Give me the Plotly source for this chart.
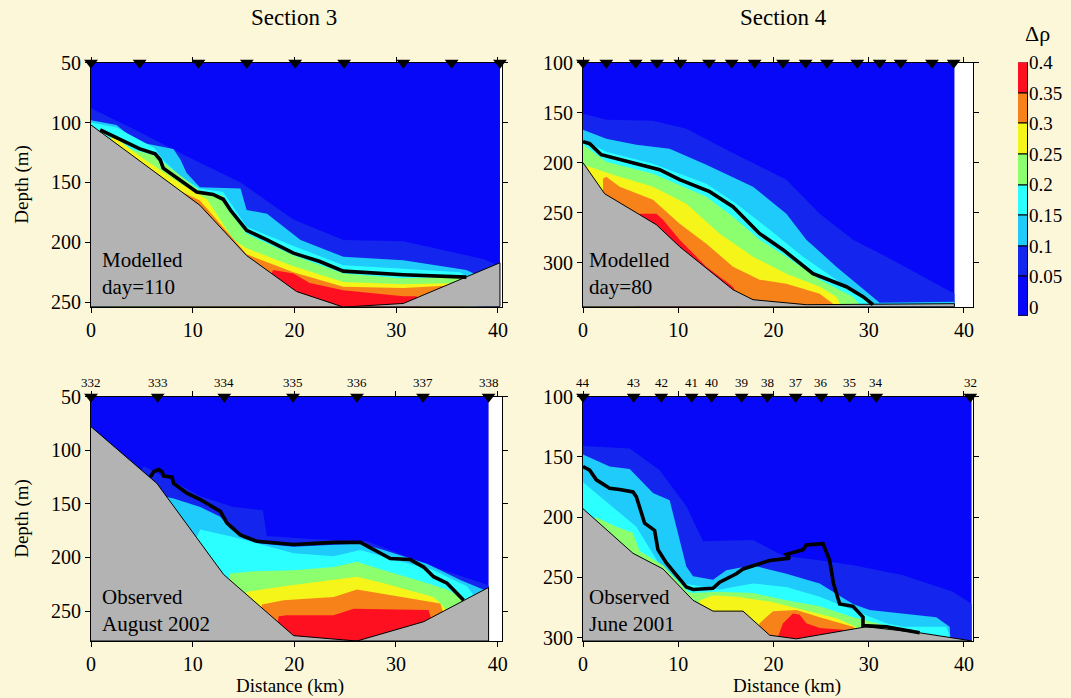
import plotly.graph_objects as go

W, H = 1071, 698
FONT = "Liberation Serif, Times New Roman, serif"
BG = "#FDF7DA"

# density-anomaly contour levels and their fill colours
LEVELS = [0.0, 0.05, 0.1, 0.15, 0.2, 0.25, 0.3, 0.35, 0.4]
LEVEL_LABELS = ["0", "0.05", "0.1", "0.15", "0.2", "0.25", "0.3", "0.35", "0.4"]
BAND_COLORS = ["#0808F8", "#1426EE", "#1ECBFA", "#2CFFFF", "#8CFF6E",
               "#F5F51A", "#F8821A", "#FF1020"]
BED_COLOR = "#B3B3B3"

# ---------------- Section 3, modelled (day 110) ----------------
P1_BED_X = [0, 10.7, 15.3, 20.2, 24.8, 30.7, 40.2]
P1_BED_D = [102, 169, 211, 241, 254, 251, 217]
P1_ISO_X = [
    [0, 4.8, 9.4, 14.7, 19.9, 24.8, 30.7, 38.6, 40.2],                       # 0.05
    [0, 2.5, 4.5, 8.1, 8.8, 9.4, 10.7, 14.7, 15.3, 17.3, 20.6, 24.8, 30.7, 36.9, 38.6],  # 0.10
    [0, 2.5, 6.2, 7.1, 8.8, 10.7, 13.0, 13.7, 15.3, 19.9, 24.8, 30.7, 36.3, 38.0],      # 0.15
    [0, 4.2, 6.2, 10.7, 13.0, 13.7, 15.3, 19.9, 24.8, 30.4, 36.9, 38.0],     # 0.20
    [2.0, 4.8, 8.8, 11.4, 14.0, 15.3, 19.9, 24.8, 30.7, 36.3, 37.5],         # 0.25
    [7.0, 9.4, 10.7, 15.3, 19.9, 24.8, 30.7, 35.3, 36.5],                    # 0.30
    [17.3, 17.9, 19.9, 21.5, 24.8, 30.7, 32.0, 32.5],                        # 0.35
]
P1_ISO_D = [
    [88, 108, 128, 150, 181, 198, 199, 214, 220],
    [98, 102, 116, 122, 131, 142, 154, 155, 173, 176, 198, 212, 215, 223, 230],
    [100, 104, 121, 131, 145, 155, 158, 167, 187, 203, 219, 222, 225, 235],
    [104, 123, 127, 157, 161, 175, 193, 211, 226, 230, 229, 236],
    [110, 128, 151, 164, 198, 205, 220, 233, 235, 234, 240],
    [150, 160, 165, 210, 225, 237, 238, 236, 245],
    [235, 223, 226, 234, 240, 245, 245, 255],
]
P1_LINE_X = [0.9, 1.9, 4.8, 6.3, 6.8, 7.1, 8.8, 10.4, 12.0, 13.0, 13.7, 15.3,
             17.3, 19.9, 22.5, 24.8, 30.7, 36.9]
P1_LINE_D = [106, 110, 122, 126, 131, 138, 148, 158, 160, 164, 173, 190,
             198, 209, 216, 224, 227, 229]
P1_STATIONS = [0, 4.78, 10.57, 15.32, 20.07, 24.88, 30.70, 35.45, 40.2]

# ---------------- Section 4, modelled (day 80) ----------------
P2_BED_X = [0, 2.27, 7.7, 10.15, 15.75, 17.85, 23.45, 39.0]
P2_BED_D = [200, 231, 262, 284, 327, 337, 342, 341]
P2_ISO_X = [
    [0, 2.45, 7.35, 10.85, 15.05, 21.35, 24.85, 28.35, 31.85, 39.0],
    [0, 2.45, 5.6, 9.1, 12.95, 17.85, 21.35, 23.45, 26.6, 30.1, 31.15, 39.0],
    [0, 2.45, 7.35, 12.95, 16.1, 19.6, 23.1, 26.6, 30.1, 30.8],
    [0, 2.45, 7.35, 12.95, 15.75, 18.55, 21.35, 24.85, 28.35, 29.4],
    [0.35, 3.15, 7.35, 10.85, 14.35, 17.85, 21.35, 24.85, 26.6, 27.3],
    [2.1, 2.45, 3.85, 7.35, 10.15, 12.95, 15.75, 18.55, 21.35, 24.85, 26.25, 26.6],
    [5.5, 5.95, 7.7, 8.4, 10.15, 12.95, 15.75, 16.6],
]
P2_ISO_D = [
    [151, 157, 158, 166, 187, 217, 251, 277, 294, 331],
    [167, 176, 182, 186, 202, 224, 251, 277, 304, 331, 340, 339],
    [177, 189, 201, 221, 241, 267, 294, 317, 339, 346],
    [182, 199, 211, 234, 254, 277, 294, 317, 334, 346],
    [203, 212, 224, 241, 271, 294, 311, 324, 334, 346],
    [216, 214, 224, 237, 261, 281, 304, 317, 321, 331, 341, 346],
    [260, 251, 251, 257, 277, 304, 324, 340],
]
P2_LINE_X = [0, 0.7, 1.92, 3.85, 8.05, 10.15, 13.3, 15.75, 18.55, 21.0,
             24.15, 27.65, 29.4, 30.45]
P2_LINE_D = [179, 181, 192, 197, 207, 217, 229, 244, 271, 287,
             311, 324, 334, 342]
P2_STATIONS = [0, 2.45, 5.53, 7.77, 10.22, 13.23, 15.61, 18.02, 21.0, 23.38,
               25.62, 28.8, 31.15, 33.35, 36.64, 38.92]

# ---------------- Section 3, observed (August 2002) ----------------
P3_BED_X = [0, 6.49, 13.05, 19.93, 26.16, 32.72, 39.11]
P3_BED_D = [78, 131, 216, 273, 278, 260, 228]
P3_ISO_X = [
    [4.5, 5.2, 7.9, 10.75, 14.0, 16.9, 17.3, 22.0, 27.15, 33.7, 39.11],
    [6.8, 7.15, 8.13, 10.75, 12.72, 13.7, 15.02, 16.66, 19.93, 26.5, 28.79, 33.05, 36.33, 39.11],
    [10.2, 10.75, 14.03, 19.93, 23.87, 26.5, 29.77, 33.7, 36.98, 38.0],
    [13.4, 13.7, 16.0, 19.93, 23.87, 26.16, 28.79, 32.07, 35.02, 36.33, 36.8],
    [15.0, 15.34, 18.95, 23.87, 26.16, 28.79, 33.7, 34.7, 35.2],
    [16.6, 16.82, 18.95, 23.87, 26.16, 30.43, 34.36, 34.8],
    [18.3, 18.46, 19.28, 23.87, 25.84, 30.43, 33.21, 33.6],
]
P3_ISO_D = [
    [125, 115, 128, 143, 153, 156, 180, 183, 185, 209, 226],
    [150, 143, 145, 153, 162, 173, 182, 187, 190, 187, 193, 206, 221, 232],
    [185, 174, 181, 196, 199, 193, 202, 212, 227, 240],
    [225, 215, 213, 212, 209, 204, 212, 221, 230, 237, 250],
    [240, 232, 227, 221, 218, 224, 237, 246, 255],
    [252, 244, 240, 237, 230, 237, 243, 256],
    [266, 255, 254, 254, 248, 249, 249, 262],
]
P3_LINE_X = [5.84, 6.16, 6.66, 6.98, 7.15, 7.97, 8.13, 9.44, 10.75, 12.72,
             13.38, 14.69, 16.33, 19.93, 23.87, 26.5, 29.44, 31.41, 32.72,
             33.7, 35.02, 36.66]
P3_LINE_D = [125, 120, 118, 120, 124, 125, 131, 140, 146, 157,
             168, 179, 185, 188, 186, 186, 201, 202, 209,
             218, 224, 240]
P3_STATIONS = [0, 6.56, 13.11, 19.87, 26.16, 32.66, 39.11]
P3_STATION_IDS = ["332", "333", "334", "335", "336", "337", "338"]

# ---------------- Section 4, observed (June 2001) ----------------
P4_BED_X = [0, 5.25, 8.4, 11.55, 13.65, 16.8, 19.6, 22.4, 29.75, 35.35, 40.25, 40.8]
P4_BED_D = [193, 230, 243, 269, 278, 278, 298, 301, 291, 296, 302, 303]
P4_ISO_X = [
    [0, 4.9, 8.05, 10.85, 12.6, 17.85, 21.0, 25.0, 28.35, 33.5, 38.85, 40.8],
    [0, 2.8, 4.9, 7.35, 9.1, 9.8, 10.85, 11.55, 13.65, 15.05, 17.85, 21.35,
     24.85, 28.35, 30.1, 37.1, 38.5, 38.6],
    [0, 3.85, 5.6, 8.4, 10.5, 14.35, 17.85, 21.35, 24.85, 28.35, 31.85,
     33.6, 38.15, 38.8],
    [0.8, 1.4, 3.5, 5.25, 5.95, 8.4, 11.0, 11.55, 14.35, 17.85, 21.35,
     24.85, 28.35, 31.85, 33.0],
    [12.0, 12.25, 13.65, 16.1, 19.6, 23.1, 26.6, 28.35, 29.5],
    [18.3, 18.55, 19.95, 22.4, 24.85, 28.35, 29.0],
    [20.3, 21.0, 22.05, 22.75, 23.45, 24.85, 28.35, 29.0],
]
P4_ISO_D = [
    [141, 143, 161, 191, 220, 219, 232, 236, 240, 248, 262, 272],
    [148, 158, 160, 180, 186, 208, 241, 249, 252, 244, 240, 247,
     255, 272, 277, 283, 291, 305],
    [171, 197, 208, 244, 255, 260, 255, 258, 266, 277, 288,
     291, 291, 305],
    [205, 200, 208, 213, 228, 240, 262, 263, 262, 263, 269,
     274, 283, 290, 296],
    [275, 269, 265, 266, 270, 277, 284, 290, 296],
    [295, 288, 278, 277, 283, 291, 296],
    [303, 288, 280, 281, 288, 292, 294, 298],
]
P4_LINE_X = [0, 0.7, 1.4, 2.8, 3.85, 5.25, 5.6, 6.47, 7.52, 7.87, 8.75,
             10.85, 11.55, 13.65, 14.35, 16.1, 16.8, 19.6, 21.7, 21.35,
             23.1, 23.45, 25.2, 25.9, 26.3, 26.95, 28.35, 29.4, 29.4,
             31.85, 33.3, 35.35]
P4_LINE_D = [158, 161, 169, 176, 177, 179, 183, 205, 211, 227, 238,
             258, 260, 259, 254, 247, 243, 236, 234, 231,
             227, 223, 222, 236, 255, 272, 274, 283, 290,
             291, 293, 296]
P4_STATIONS = [0, 5.32, 8.22, 11.41, 13.51, 16.66, 19.35, 22.33, 25.02,
               28.0, 30.8, 40.67]
P4_STATION_IDS = ["44", "43", "42", "41", "40", "39", "38", "37", "36",
                  "35", "34", "32"]

# panel frames: x extent, depth range (top, bottom), y ticks
P1_XMAX, P1_DEPTH = 40.4, (50, 253.7)
P2_XMAX, P2_DEPTH = 40.95, (100, 344)
P3_XMAX, P3_DEPTH = 40.43, (50, 278)
P4_XMAX, P4_DEPTH = 40.95, (100, 302.8)
P1_YTICKS = [50, 100, 150, 200, 250]
P2_YTICKS = [100, 150, 200, 250, 300]
P3_YTICKS = [50, 100, 150, 200, 250]
P4_YTICKS = [100, 150, 200, 250, 300]
X_TICKS = [0, 10, 20, 30, 40]


def px_x(px):
    return px / W


def px_y(py):
    return 1 - py / H


fig = go.Figure()


def add_panel(n, bed_x, bed_d, iso_x, iso_d, line_x, line_d, stations, depth):
    xa = "x" if n == 1 else f"x{n}"
    ya = "y" if n == 1 else f"y{n}"
    dtop, dbot = depth
    x0, x1 = bed_x[0], bed_x[-1]
    # background water mass (lowest band)
    fig.add_trace(go.Scatter(
        x=[x0, x1, x1, x0], y=[dtop, dtop, dbot, dbot], fill="toself",
        fillcolor=BAND_COLORS[0], mode="lines", line=dict(width=0),
        xaxis=xa, yaxis=ya, hoverinfo="skip", showlegend=False))
    # each level fills everything beneath its isoline
    for k, (xs, ds) in enumerate(zip(iso_x, iso_d)):
        fig.add_trace(go.Scatter(
            x=list(xs) + [xs[-1], xs[0]], y=list(ds) + [dbot, dbot],
            fill="toself", fillcolor=BAND_COLORS[k + 1], mode="lines",
            line=dict(width=0), xaxis=xa, yaxis=ya, hoverinfo="skip",
            showlegend=False))
    # sea bed
    fig.add_trace(go.Scatter(
        x=list(bed_x) + [x1, x0], y=list(bed_d) + [dbot, dbot],
        fill="toself", fillcolor=BED_COLOR, mode="lines",
        line=dict(color="black", width=1), xaxis=xa, yaxis=ya,
        hoverinfo="skip", showlegend=False))
    # highlighted contour
    fig.add_trace(go.Scatter(
        x=line_x, y=line_d, mode="lines",
        line=dict(color="black", width=3.6), xaxis=xa, yaxis=ya,
        hoverinfo="skip", showlegend=False))
    # station positions
    fig.add_trace(go.Scatter(
        x=stations, y=[dtop] * len(stations), mode="markers",
        marker=dict(symbol="triangle-down", size=12, color="black"),
        cliponaxis=False, xaxis=xa, yaxis=ya, hoverinfo="skip",
        showlegend=False))


add_panel(1, P1_BED_X, P1_BED_D, P1_ISO_X, P1_ISO_D, P1_LINE_X, P1_LINE_D,
          P1_STATIONS, P1_DEPTH)
add_panel(2, P2_BED_X, P2_BED_D, P2_ISO_X, P2_ISO_D, P2_LINE_X, P2_LINE_D,
          P2_STATIONS, P2_DEPTH)
add_panel(3, P3_BED_X, P3_BED_D, P3_ISO_X, P3_ISO_D, P3_LINE_X, P3_LINE_D,
          P3_STATIONS, P3_DEPTH)
add_panel(4, P4_BED_X, P4_BED_D, P4_ISO_X, P4_ISO_D, P4_LINE_X, P4_LINE_D,
          P4_STATIONS, P4_DEPTH)

# colour key drawn as stacked bars on its own axis
CB_MIN = -0.0142
cb_base = [CB_MIN] + LEVELS[1:-1]
cb_height = [top - b for top, b in zip(LEVELS[1:], cb_base)]
fig.add_trace(go.Bar(
    x=[0] * len(cb_height), y=cb_height, base=cb_base, width=1,
    marker=dict(color=BAND_COLORS, line=dict(color="black", width=1)),
    xaxis="x5", yaxis="y5", hoverinfo="skip", showlegend=False))

tickfont = dict(family=FONT, size=20, color="black")
common_x = dict(tickvals=X_TICKS, ticks="outside", ticklen=5, tickcolor="black",
                showline=True, linecolor="black", linewidth=1, mirror="ticks",
                showgrid=False, zeroline=False, tickfont=tickfont,
                automargin=False)
common_y = dict(ticks="outside", ticklen=5, tickcolor="black", showline=True,
                linecolor="black", linewidth=1, mirror="ticks", showgrid=False,
                zeroline=False, tickfont=tickfont, automargin=False)

left_dom = [px_x(91), px_x(502)]
right_dom = [px_x(583), px_x(973)]
top_dom = [px_y(306.7), px_y(62.7)]
bot_dom = [px_y(641), px_y(396.7)]

layout = dict(
    template="none",
    width=W, height=H, margin=dict(l=0, r=0, t=0, b=0, pad=0),
    paper_bgcolor=BG, plot_bgcolor="white", bargap=0, showlegend=False,
    font=dict(family=FONT, color="black"),
    xaxis={**common_x, "domain": left_dom, "range": [0, P1_XMAX], "anchor": "y"},
    yaxis={**common_y, "domain": top_dom, "range": [P1_DEPTH[1], P1_DEPTH[0]],
           "tickvals": P1_YTICKS, "anchor": "x"},
    xaxis2={**common_x, "domain": right_dom, "range": [0, P2_XMAX], "anchor": "y2"},
    yaxis2={**common_y, "domain": top_dom, "range": [P2_DEPTH[1], P2_DEPTH[0]],
            "tickvals": P2_YTICKS, "anchor": "x2"},
    xaxis3={**common_x, "domain": left_dom, "range": [0, P3_XMAX], "anchor": "y3"},
    yaxis3={**common_y, "domain": bot_dom, "range": [P3_DEPTH[1], P3_DEPTH[0]],
            "tickvals": P3_YTICKS, "anchor": "x3"},
    xaxis4={**common_x, "domain": right_dom, "range": [0, P4_XMAX], "anchor": "y4"},
    yaxis4={**common_y, "domain": bot_dom, "range": [P4_DEPTH[1], P4_DEPTH[0]],
            "tickvals": P4_YTICKS, "anchor": "x4"},
    xaxis5=dict(domain=[px_x(1018), px_x(1028)], range=[-0.5, 0.5],
                visible=False, anchor="y5", automargin=False),
    yaxis5=dict(domain=[px_y(316), px_y(62.3)], range=[CB_MIN, LEVELS[-1]],
                side="right", anchor="x5", tickvals=LEVELS,
                ticktext=LEVEL_LABELS, ticks="", showgrid=False,
                zeroline=False, showline=False, automargin=False,
                tickfont=dict(family=FONT, size=19, color="black")),
)
fig.update_layout(**layout)

annotations = []


def note(text, x, y, size, xanchor="center", **kw):
    annotations.append(dict(text=text, x=x, y=y, xref="paper", yref="paper",
                            xanchor=xanchor, yanchor="middle",
                            showarrow=False,
                            font=dict(family=FONT, size=size, color="black"),
                            **kw))


note("Section 3", px_x(294), px_y(18), 23)
note("Section 4", px_x(783), px_y(18), 23)
note("Δρ", px_x(1037), px_y(33), 22)
note("Depth (m)", px_x(22), px_y(184.7), 19, textangle=-90)
note("Depth (m)", px_x(22), px_y(518.8), 19, textangle=-90)
note("Distance (km)", px_x(290), px_y(686), 19)
note("Distance (km)", px_x(787), px_y(686), 19)
note("Modelled<br>day=110", px_x(100), px_y(273), 21, xanchor="left", align="left")
note("Modelled<br>day=80", px_x(587), px_y(273), 21, xanchor="left", align="left")
note("Observed<br>August 2002", px_x(100), px_y(610), 21, xanchor="left", align="left")
note("Observed<br>June 2001", px_x(587), px_y(610), 21, xanchor="left", align="left")

# station numbers above the observed sections
for xs, ids, xa, ya in [(P3_STATIONS, P3_STATION_IDS, "x3", "y3 domain"),
                        (P4_STATIONS, P4_STATION_IDS, "x4", "y4 domain")]:
    for xv, label in zip(xs, ids):
        annotations.append(dict(text=label, x=xv, y=1, xref=xa, yref=ya,
                                xanchor="center", yanchor="bottom", yshift=5,
                                showarrow=False,
                                font=dict(family=FONT, size=13, color="black")))

fig.update_layout(annotations=annotations)
fig.write_html("out.html")
